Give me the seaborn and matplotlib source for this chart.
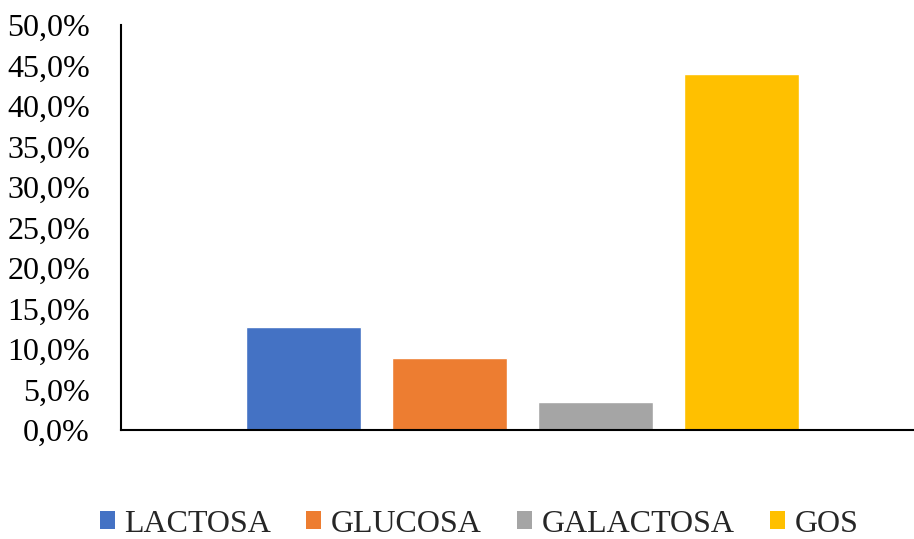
import matplotlib
matplotlib.use("Agg")
import matplotlib.pyplot as plt
from matplotlib.ticker import FuncFormatter, MultipleLocator
import seaborn as sns
import pandas as pd

# Composición de azúcares (fracción del total)
sustancias = ["LACTOSA", "GLUCOSA", "GALACTOSA", "GOS"]
valores = [0.127, 0.089, 0.034, 0.440]
colores = ["#4472C4", "#ED7D31", "#A5A5A5", "#FFC000"]

df = pd.DataFrame({"grupo": [""] * len(sustancias),
                   "sustancia": sustancias,
                   "valor": valores})

sns.set_theme(style="white")
plt.rcParams["font.family"] = ["Liberation Serif", "DejaVu Serif"]

W, H = 914, 539
fig = plt.figure(figsize=(W / 100, H / 100), dpi=100)
ax_left, ax_right, ax_top, ax_bot = 120.5, 913, 25, 430
ax = fig.add_axes([ax_left / W, 1 - ax_bot / H,
                   (ax_right - ax_left) / W, (ax_bot - ax_top) / H])

sns.barplot(data=df, x="grupo", y="valor", hue="sustancia",
            hue_order=sustancias, palette=colores, width=0.8, gap=0.2123,
            saturation=1, ax=ax, legend=False, errorbar=None)

# Pixel-to-data mapping: 146 px per bar slot (0.2 data units)
px_per_unit = 146 / 0.2
center_px = 522.5
ax.set_xlim((ax_left - center_px) / px_per_unit, (ax_right - center_px) / px_per_unit)
ax.set_ylim(0, 0.5)
ax.yaxis.set_major_locator(MultipleLocator(0.05))
ax.yaxis.set_major_formatter(FuncFormatter(lambda v, _: f"{v * 100:.1f}%".replace(".", ",")))

ax.set_xlabel("")
ax.set_ylabel("")
ax.set_xticks([])
ax.tick_params(axis="y", length=0, pad=22, labelsize=23, labelcolor="black")

for s in ["top", "right"]:
    ax.spines[s].set_visible(False)
for s in ["left", "bottom"]:
    ax.spines[s].set_color("black")
    ax.spines[s].set_linewidth(1.5)

handles = [plt.Rectangle((0, 0), 1, 1, facecolor=c, edgecolor="none") for c in colores]
fig.legend(handles, sustancias, loc="center", bbox_to_anchor=(479 / W, 1 - 524 / H),
           ncol=4, frameon=False, fontsize=23, handlelength=0.47, handleheight=0.47,
           handletextpad=0.3, columnspacing=1.1, borderpad=0, borderaxespad=0)

fig.savefig("out.png", dpi=100)
